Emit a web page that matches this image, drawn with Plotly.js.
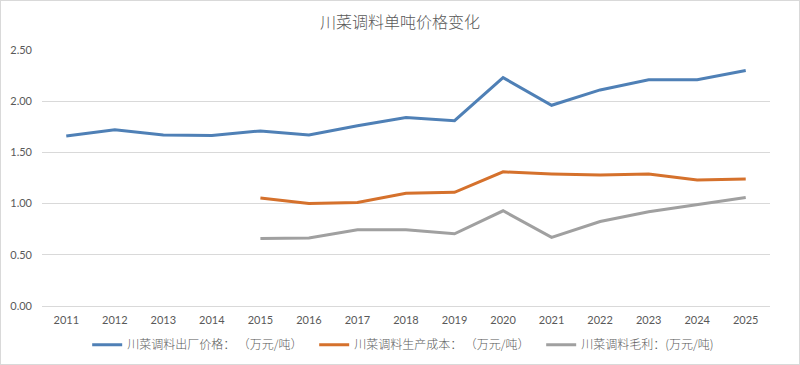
<!DOCTYPE html>
<html>
<head>
<meta charset="utf-8">
<script src="https://cdn.plot.ly/plotly-3.0.1.min.js"></script>
<style>
html,body{margin:0;padding:0;background:#fff;}
#chart{width:798px;height:363px;border:1px solid #d9d9d9;}
</style>
</head>
<body>
<div id="chart"></div>
<script>
const years = ["2011","2012","2013","2014","2015","2016","2017","2018","2019","2020","2021","2022","2023","2024","2025"];
const priceYears = years;
const priceValues = [1.66,1.72,1.67,1.665,1.71,1.67,1.76,1.84,1.81,2.23,1.96,2.11,2.21,2.21,2.30];
const costYears = years.slice(4);
const costValues = [1.055,1.00,1.01,1.10,1.11,1.31,1.29,1.28,1.29,1.23,1.24];
const profitYears = years.slice(4);
const profitValues = [0.66,0.665,0.745,0.745,0.705,0.93,0.67,0.825,0.92,0.99,1.06];
const seriesNames = ["川菜调料出厂价格： （万元/吨）","川菜调料生产成本： （万元/吨）","川菜调料毛利：(万元/吨)"];
const yTicks = [0,0.5,1,1.5,2,2.5];
const yTickText = ["0.00","0.50","1.00","1.50","2.00","2.50"];

const cjk = '"Noto Sans CJK SC", "Noto Sans", sans-serif';
const num = 'Lato, "Liberation Sans", sans-serif';

const traces = [
  {x: priceYears, y: priceValues, name: seriesNames[0], mode: 'lines', line: {color: '#4f80b6', width: 3}},
  {x: costYears, y: costValues, name: seriesNames[1], mode: 'lines', line: {color: '#d5712c', width: 3}},
  {x: profitYears, y: profitValues, name: seriesNames[2], mode: 'lines', line: {color: '#a0a0a0', width: 3}}
];

const layout = {
  width: 798, height: 363,
  margin: {l: 41, r: 29, t: 49, b: 58},
  paper_bgcolor: '#fff', plot_bgcolor: '#fff',
  title: {text: '川菜调料单吨价格变化', x: 0.5, xanchor: 'center', y: 0.94, yanchor: 'middle',
          font: {family: cjk, size: 16, color: '#595959', weight: 300}},
  xaxis: {type: 'category', categoryorder: 'array', categoryarray: years, range: [-0.5, 14.5],
          showgrid: false, zeroline: false, showline: false, ticks: '',
          ticklabelstandoff: 6,
          tickfont: {family: num, size: 11, color: '#595959'}, fixedrange: true},
  yaxis: {range: [0, 2.5], tickvals: yTicks, ticktext: yTickText, showgrid: true, gridcolor: '#d9d9d9',
          gridwidth: 1, zeroline: true, zerolinecolor: '#d9d9d9', zerolinewidth: 1, showline: false, ticks: '',
          ticklabelstandoff: 9,
          tickfont: {family: num, size: 11, color: '#595959'}, fixedrange: true},
  showlegend: true,
  legend: {orientation: 'h', xref: 'container', yref: 'container', x: 0.108, xanchor: 'left', y: 0.053, yanchor: 'middle',
           font: {family: cjk, size: 12, color: '#595959', weight: 300}, itemwidth: 30, tracegroupgap: 0,
           entrywidth: 182, entrywidthmode: 'pixels'}
};

Plotly.newPlot('chart', traces, layout, {displayModeBar: false, staticPlot: true});
</script>
</body>
</html>
